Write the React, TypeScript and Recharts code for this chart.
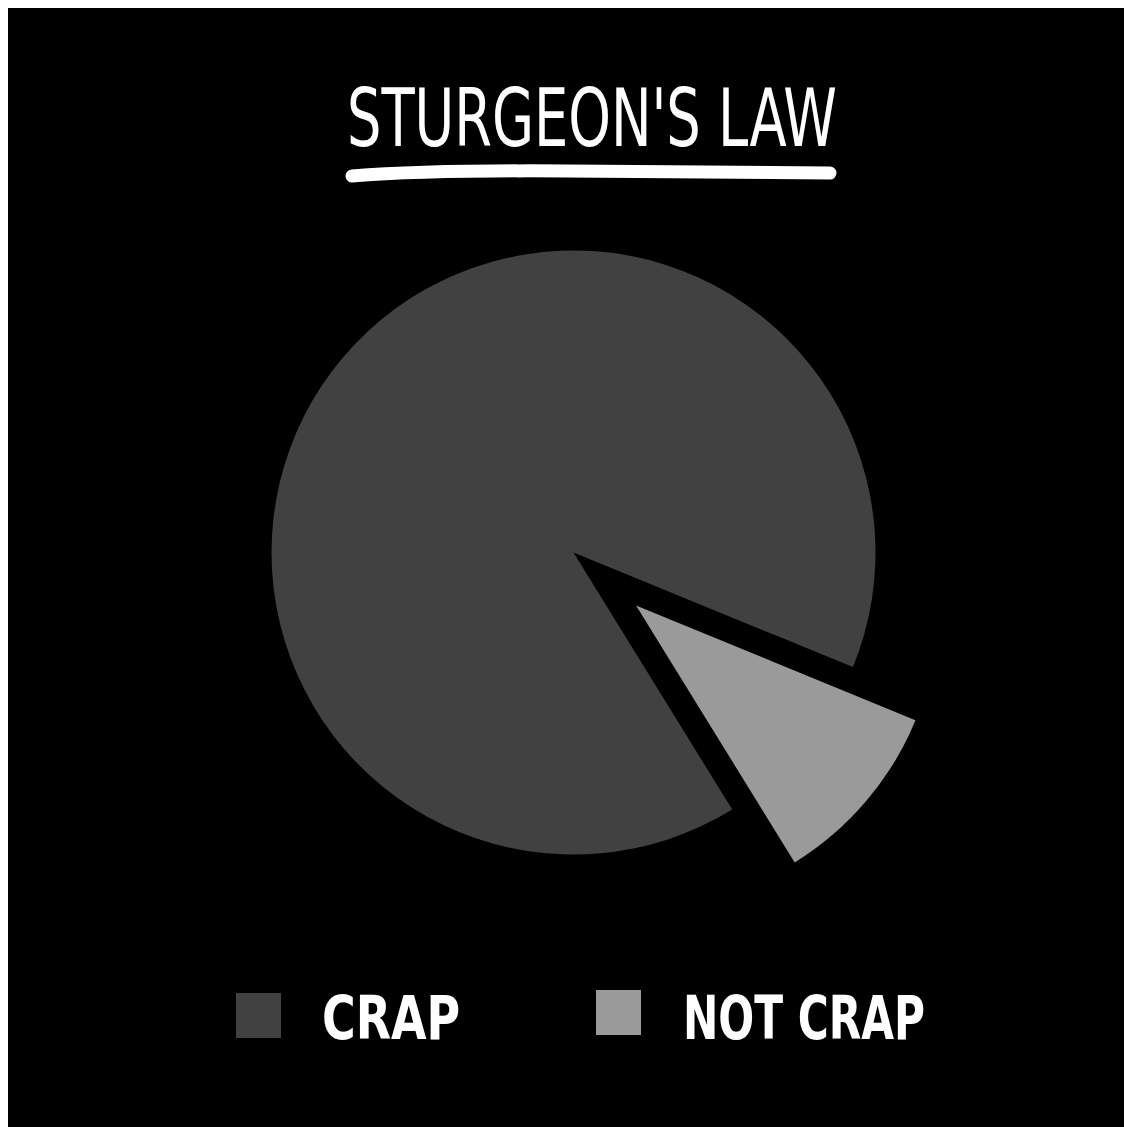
import React from "react";
import { PieChart, Pie, Cell } from "recharts";

// data
const categories = ["CRAP", "NOT CRAP"];
const shares = [90, 10];
const colors = ["#414141", "#9a9a9a"];
const title = "STURGEON'S LAW";

const W = 1116;
const H = 1119;
const CX = 565.5;
const CY = 544.5;
const R = 302;
const START = -22.3;
const EXPLODE = 82;

const pieData = categories.map((name, i) => ({ name, value: shares[i] }));

export default function App() {
  const total = shares.reduce((a, b) => a + b, 0);
  // mid angle of the pulled-out slice
  const before = shares.slice(0, 1).reduce((a, b) => a + b, 0);
  const mid = START + (360 * (before + shares[1] / 2)) / total;
  const rad = (mid * Math.PI) / 180;
  const cx2 = CX + EXPLODE * Math.cos(rad);
  const cy2 = CY - EXPLODE * Math.sin(rad);

  return (
    <div
      style={{
        position: "fixed",
        left: 8,
        top: 8,
        width: W + 40,
        height: H + 40,
        background: "#000",
        overflow: "hidden",
      }}
    >
      <PieChart width={W} height={H} margin={{ top: 0, right: 0, bottom: 0, left: 0 }}>
        <Pie
          data={pieData}
          dataKey="value"
          cx={CX}
          cy={CY}
          outerRadius={R}
          startAngle={START}
          endAngle={START + 360}
          stroke="none"
          isAnimationActive={false}
        >
          {pieData.map((d, i) => (
            <Cell key={d.name} fill={i === 0 ? colors[i] : "transparent"} />
          ))}
        </Pie>
        <Pie
          data={pieData}
          dataKey="value"
          cx={cx2}
          cy={cy2}
          outerRadius={R}
          startAngle={START}
          endAngle={START + 360}
          stroke="none"
          isAnimationActive={false}
        >
          {pieData.map((d, i) => (
            <Cell key={d.name} fill={i === 1 ? colors[i] : "transparent"} />
          ))}
        </Pie>
      </PieChart>

      {/* title + legend */}
      <svg
        width={W}
        height={H}
        style={{ position: "absolute", left: 0, top: 0, pointerEvents: "none" }}
        fontFamily="'Liberation Sans Narrow', 'DejaVu Sans Condensed', 'Open Sans', sans-serif"
      >
        <text
          x={339}
          y={138}
          fill="#fff"
          fontSize={80}
          textLength={490}
          lengthAdjust="spacingAndGlyphs"
        >
          {title}
        </text>
        <path
          d="M344,168 Q420,162 560,163 T822,165"
          stroke="#fff"
          strokeWidth={13}
          strokeLinecap="round"
          fill="none"
        />
        {categories.map((c, i) => {
          const sx = i === 0 ? 228 : 588;
          const tx = i === 0 ? 314 : 675;
          const tw = i === 0 ? 138 : 242;
          return (
            <g key={c}>
              <rect x={sx} y={i === 0 ? 985 : 982} width={45} height={45} fill={colors[i]} />
              <text
                x={tx}
                y={1031}
                fill="#fff"
                fontSize={60}
                fontWeight="bold"
                textLength={tw}
                lengthAdjust="spacingAndGlyphs"
              >
                {c}
              </text>
            </g>
          );
        })}
      </svg>
    </div>
  );
}
